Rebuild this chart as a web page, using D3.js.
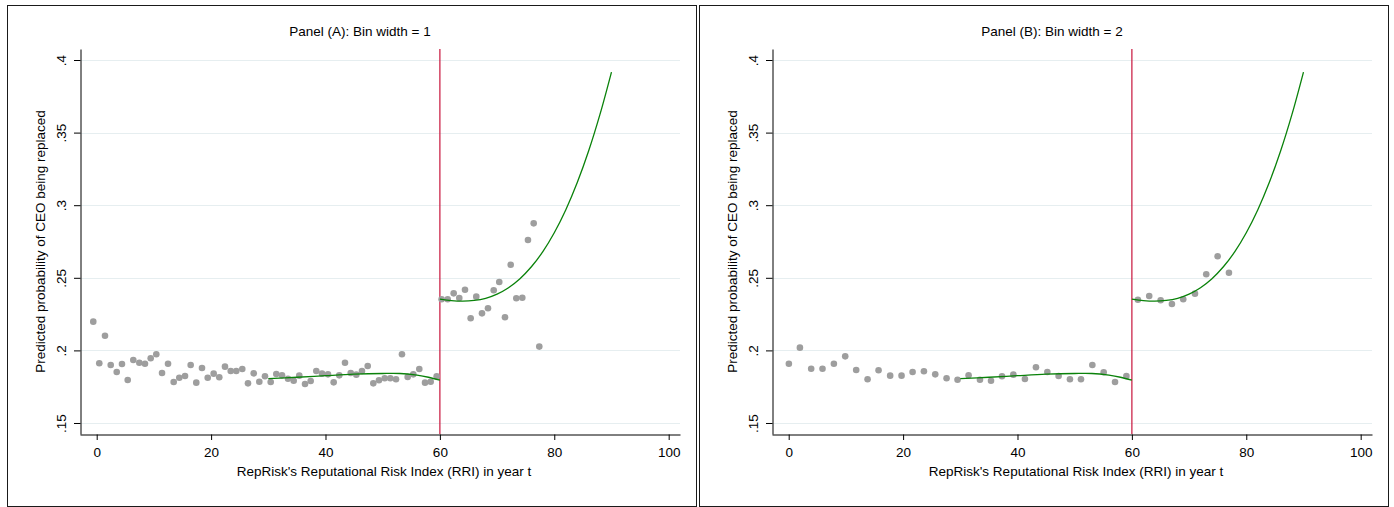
<!DOCTYPE html>
<html><head><meta charset="utf-8">
<script src="https://cdn.jsdelivr.net/npm/d3@7"></script>
<style>
html,body{margin:0;padding:0;background:#fff;}
svg{display:block;}
text{font-family:"Liberation Sans",Arial,sans-serif;fill:#000;}
</style></head>
<body>
<svg id="chart" width="1394" height="507"></svg>
<script>
// ---- data ----
const titles = ["Panel (A): Bin width = 1", "Panel (B): Bin width = 2"];
const xAxisTitle = "RepRisk's Reputational Risk Index (RRI) in year t";
const yAxisTitle = "Predicted probability of CEO being replaced";
const xTicks = [0, 20, 40, 60, 80, 100];
const yTicks = [0.15, 0.2, 0.25, 0.3, 0.35, 0.4];
const yTickLabels = [".15", ".2", ".25", ".3", ".35", ".4"];
const cutoff = 60;

const binAx = [-0.6,0.45,1.45,2.45,3.5,4.42,5.42,6.4,7.45,8.44,9.44,10.42,11.42,12.47,13.46,14.44,15.44,16.43,17.41,18.41,19.41,20.45,21.43,22.43,23.43,24.4,25.45,26.45,27.45,28.43,29.42,30.42,31.4,32.4,33.45,34.44,35.42,36.42,37.41,38.39,39.39,40.44,41.43,42.41,43.41,44.41,45.39,46.38,47.38,48.36,49.35,50.35,51.33,52.33,53.37,54.37,55.35,56.4,57.4,58.39,59.44,
  60.3,61.36,62.41,63.39,64.39,65.38,66.36,67.36,68.41,69.41,70.38,71.38,72.38,73.36,74.41,75.4,76.4,77.38];
const binAy = [.2198,.1911,.2101,.1899,.1851,.1906,.1796,.1934,.1915,.1908,.1946,.1973,.1844,.1908,.1782,.1812,.1824,.1899,.1778,.1879,.1812,.1840,.1815,.1888,.1858,.1858,.1872,.1773,.1842,.1784,.1822,.1782,.1837,
  .1828,.1805,.1791,.1826,.1769,.1789,.1858,.1840,.1835,.1780,.1828,.1915,.1844,.1833,.1858,.1893,.1773,.1794,.1808,.1808,.1801,.1973,.1817,.1835,.1872,.1778,.1784,.1822,
  .2352,.2352,.2393,.2361,.2418,.2221,.2370,.2255,.2290,.2414,.2471,.2228,.2590,.2359,.2363,.2760,.2875,.2026];

const binBx = [0.03,1.96,3.93,5.91,7.9,9.88,11.8,13.79,15.71,17.74,19.73,21.66,23.64,25.62,27.6,29.52,31.45,33.44,35.37,37.29,39.28,41.3,43.23,45.22,47.19,49.17,51.1,53.09,55.07,57.05,59.04,
  61.05,63.03,65.03,67.0,68.98,71.03,73.0,74.99,76.97];
const binBy = [.1908,.2019,.1874,.1874,.1908,.1959,.1865,.1801,.1863,.1826,.1826,.1851,.1856,.1835,.1808,.1798,.1828,.1798,.1791,.1822,.1833,.1803,.1884,.1851,.1824,.1801,.1801,.1899,.1849,.1782,.1824,
  .2349,.2375,.2345,.2320,.2352,.2391,.2524,.2648,.2535];

const fitLeftX = [30, 35, 40, 45, 50, 53, 56, 58, 60];
const fitLeftY = [.1806, .1815, .1826, .1836, .1841, .1841, .1829, .1815, .1795];
const fitRightX = [60, 62, 64, 66, 68, 70, 72, 74, 76, 78, 80, 82, 84, 86, 88, 90];
const fitRightY = [.2353, .2343, .2339, .2344, .2359, .2388, .2432, .2494, .2576, .2680, .2810, .2967, .3154, .3373, .3627, .3917];

// ---- drawing ----
const svg = d3.select("#chart");
const FS = "13.5px";

function drawPanel(dx, title, bx, by) {
  const g = svg.append("g").attr("transform", `translate(${dx},0)`);
  g.append("rect").attr("x", 7.5).attr("y", 5.5).attr("width", 689).attr("height", 501)
    .attr("fill", "#fff").attr("stroke", "#1a1a1a").attr("stroke-width", 1);

  const x = d3.scaleLinear().domain([-2.92, 101.98]).range([80, 680]);
  const y = d3.scaleLinear().domain([0.14242, 0.40758]).range([434, 49]);

  // gridlines
  g.append("g").selectAll("line").data(yTicks).join("line")
    .attr("x1", 80).attr("x2", 680)
    .attr("y1", d => Math.round(y(d)) + 0.5).attr("y2", d => Math.round(y(d)) + 0.5)
    .attr("stroke", "#e6eef0").attr("stroke-width", 1);

  // y axis
  const ya = g.append("g").attr("transform", "translate(80.5,0)")
    .call(d3.axisLeft(y).tickValues(yTicks).tickSize(6.5).tickSizeOuter(0)
      .tickFormat((d, i) => yTickLabels[i]));
  ya.select(".domain").attr("stroke", "#000");
  ya.selectAll(".tick line").attr("stroke", "#000");
  ya.selectAll(".tick text").attr("x", null).attr("dy", null)
    .attr("transform", "translate(-15,0) rotate(-90)")
    .attr("text-anchor", "middle").style("font-size", FS)
    .style("font-family", "'Liberation Sans',Arial,sans-serif");

  // x axis
  const xa = g.append("g").attr("transform", "translate(0,434.5)")
    .call(d3.axisBottom(x).tickValues(xTicks).tickSize(5.5).tickSizeOuter(0));
  xa.select(".domain").attr("stroke", "#000");
  xa.selectAll(".tick line").attr("stroke", "#000");
  xa.selectAll(".tick text").attr("dy", null).attr("y", 22)
    .style("font-size", FS).style("font-family", "'Liberation Sans',Arial,sans-serif");

  // cutoff line
  g.append("line").attr("x1", x(cutoff)).attr("x2", x(cutoff)).attr("y1", 49).attr("y2", 434)
    .attr("stroke", "#c8143c").attr("stroke-width", 1.2);

  // points
  g.append("g").selectAll("circle").data(bx.map((v, i) => [v, by[i]])).join("circle")
    .attr("cx", d => x(d[0])).attr("cy", d => y(d[1])).attr("r", 3.3)
    .attr("fill", "#9e9e9e");

  // fits
  const line = d3.line().x(d => x(d[0])).y(d => y(d[1])).curve(d3.curveCatmullRom);
  g.append("path").datum(fitLeftX.map((v, i) => [v, fitLeftY[i]])).attr("d", line)
    .attr("fill", "none").attr("stroke", "#0a820a").attr("stroke-width", 1.3);
  g.append("path").datum(fitRightX.map((v, i) => [v, fitRightY[i]])).attr("d", line)
    .attr("fill", "none").attr("stroke", "#0a820a").attr("stroke-width", 1.3);

  // titles
  g.append("text").attr("x", 360).attr("y", 36).attr("text-anchor", "middle")
    .style("font-size", FS).text(title);
  g.append("text").attr("x", 384).attr("y", 476).attr("text-anchor", "middle")
    .style("font-size", FS).text(xAxisTitle);
  g.append("text").attr("transform", `translate(45,241.5) rotate(-90)`).attr("text-anchor", "middle")
    .style("font-size", FS).text(yAxisTitle);
}

drawPanel(0, titles[0], binAx, binAy);
drawPanel(692, titles[1], binBx, binBy);
</script>
</body></html>
